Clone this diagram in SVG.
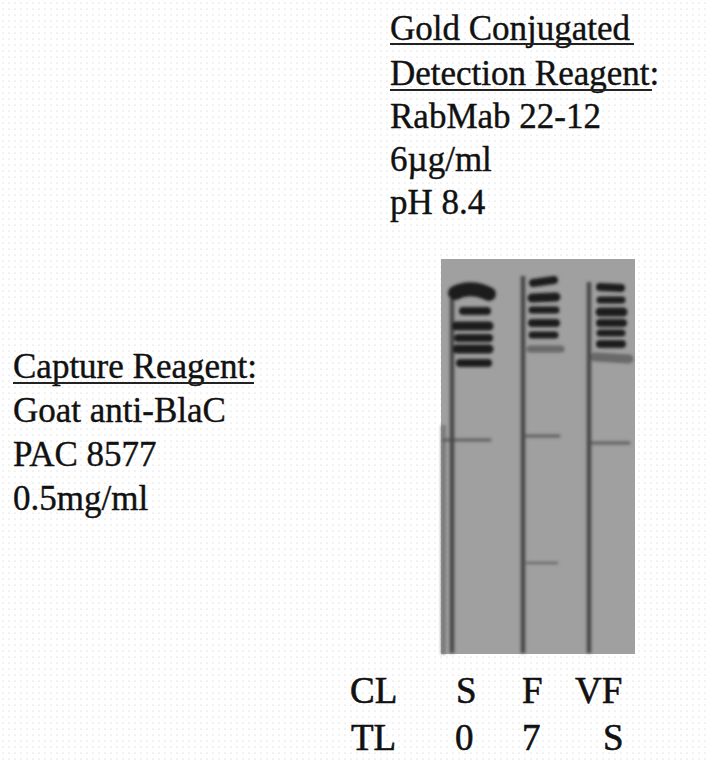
<svg xmlns="http://www.w3.org/2000/svg" width="710" height="763" viewBox="0 0 710 763">
  <defs>
    <style>
      .t { font-family: "Liberation Serif", "Times New Roman", serif; font-size: 35px; fill: #111; stroke: #111; stroke-width: 0.4; }
      .b { font-family: "Liberation Serif", "Times New Roman", serif; font-size: 37px; fill: #111; stroke: #111; stroke-width: 0.6; }
      .ul { stroke: #222; stroke-width: 1.8; }
      .band { stroke: #1a1a1a; stroke-linecap: round; fill: none; }
      .faint { stroke: #444; stroke-linecap: round; fill: none; opacity: 0.6; }
      .vline { stroke: #4a4a4a; fill: none; }
    </style>
    <pattern id="bgdots" width="6" height="6" patternUnits="userSpaceOnUse">
      <rect width="6" height="6" fill="#ffffff"/>
      <circle cx="3" cy="3" r="0.6" fill="#c8c8c8"/>
    </pattern>
    <filter id="soft" x="-20%" y="-50%" width="140%" height="200%">
      <feGaussianBlur stdDeviation="1.7"/>
    </filter>
  </defs>

  <rect width="710" height="763" fill="url(#bgdots)"/>

  <g id="detection-reagent">
    <text class="t" x="390" y="40">Gold Conjugated</text>
    <line class="ul" x1="390" y1="44" x2="634" y2="44"/>
    <text class="t" x="390" y="85">Detection Reagent:</text>
    <line class="ul" x1="390" y1="90" x2="652" y2="90"/>
    <text class="t" x="390" y="128">RabMab 22-12</text>
    <text class="t" x="390" y="171">6µg/ml</text>
    <text class="t" x="390" y="214">pH 8.4</text>
  </g>

  <g id="capture-reagent">
    <text class="t" x="13" y="378">Capture Reagent:</text>
    <line class="ul" x1="13" y1="383" x2="254" y2="383"/>
    <text class="t" x="13" y="422">Goat anti-BlaC</text>
    <text class="t" x="13" y="466">PAC 8577</text>
    <text class="t" x="13" y="510">0.5mg/ml</text>
  </g>

  <g id="strip">
    <rect x="441" y="259" width="194" height="395" fill="#a0a0a0"/>
    <g filter="url(#soft)">
      <!-- vertical lane edges -->
      <line class="vline" x1="452" y1="295" x2="452" y2="653" stroke-width="4.5"/>
      <line class="vline" x1="523" y1="276" x2="523" y2="653" stroke-width="4.5"/>
      <line class="vline" x1="589" y1="282" x2="589" y2="653" stroke-width="4.5"/>
      <rect x="441" y="425" width="5" height="229" fill="#7a7a7a"/>
      <!-- lane 1 bands -->
      <path class="band" d="M455 293 Q470 285 489 294" stroke-width="14"/>
      <line class="band" x1="463" y1="311" x2="487" y2="311" stroke-width="8"/>
      <line class="band" x1="456" y1="326" x2="489" y2="326" stroke-width="9"/>
      <line class="band" x1="458" y1="338" x2="489" y2="338" stroke-width="8"/>
      <line class="band" x1="457" y1="349" x2="489" y2="349" stroke-width="9"/>
      <line class="band" x1="460" y1="363" x2="488" y2="363" stroke-width="8"/>
      <!-- lane 2 bands -->
      <line class="band" x1="533" y1="283" x2="554" y2="280" stroke-width="8"/>
      <line class="band" x1="532" y1="298" x2="556" y2="297" stroke-width="9"/>
      <line class="band" x1="532" y1="310" x2="556" y2="310" stroke-width="7"/>
      <line class="band" x1="532" y1="323" x2="556" y2="323" stroke-width="8"/>
      <line class="band" x1="532" y1="335" x2="555" y2="335" stroke-width="7"/>
      <line class="faint" x1="530" y1="349" x2="561" y2="349" stroke-width="7"/>
      <!-- lane 3 bands -->
      <line class="band" x1="600" y1="287" x2="621" y2="288" stroke-width="8"/>
      <line class="band" x1="600" y1="300" x2="622" y2="300" stroke-width="7"/>
      <line class="band" x1="600" y1="312" x2="623" y2="312" stroke-width="9"/>
      <line class="band" x1="600" y1="323" x2="623" y2="323" stroke-width="8"/>
      <line class="band" x1="600" y1="333" x2="622" y2="333" stroke-width="7"/>
      <line class="band" x1="600" y1="344" x2="622" y2="344" stroke-width="8"/>
      <line class="faint" x1="595" y1="357" x2="629" y2="359" stroke-width="9"/>
      <!-- test lines -->
      <line class="faint" x1="444" y1="440" x2="490" y2="440" stroke-width="3.5"/>
      <line class="faint" x1="526" y1="436" x2="559" y2="436" stroke-width="3.5"/>
      <line class="faint" x1="592" y1="443" x2="629" y2="443" stroke-width="3.5"/>
      <line class="faint" x1="527" y1="563" x2="557" y2="563" stroke-width="2.5" opacity="0.3"/>
    </g>
  </g>

  <g id="lane-labels">
    <text class="b" x="350" y="703">CL</text>
    <text class="b" x="456" y="703">S</text>
    <text class="b" x="522" y="703">F</text>
    <text class="b" x="575" y="703">VF</text>
    <text class="b" x="351" y="750">TL</text>
    <text class="b" x="455" y="750">0</text>
    <text class="b" x="522" y="750">7</text>
    <text class="b" x="603" y="750">S</text>
  </g>
</svg>
